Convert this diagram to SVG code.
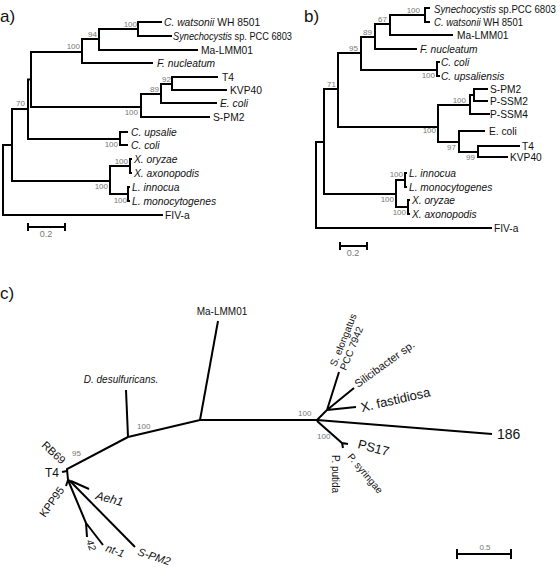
<svg xmlns="http://www.w3.org/2000/svg" width="560" height="567" viewBox="0 0 560 567">
<style>
text{font-family:"Liberation Sans",Arial,sans-serif;fill:#111}
.a{font-size:10.3px}
.b{font-size:10.2px}
.it{font-style:italic}
.bs{font-size:8px;fill:#777}
.pl{font-size:17px}
.br{stroke:#000;stroke-width:2;fill:none}
.sc{stroke:#000;stroke-width:2;fill:none}
</style>
<rect width="560" height="567" fill="#fff"/>
<text class="pl" x="0" y="22">a)</text>
<text class="pl" x="304" y="22">b)</text>
<text class="pl" x="0" y="299">c)</text>

<g id="connectors">
 <g id="tree-a">
  <path class="br" d="M12,145H3V215H163"/>
  <path class="br" d="M28,109H12V181H110"/>
  <path class="br" d="M31,79.5H28V139H120"/>
  <path class="br" d="M82,52H31V107H141"/>
  <path class="br" d="M99,39H82V63H153"/>
  <path class="br" d="M138,29H99V50H198"/>
  <path class="br" d="M162,22H138V36H172"/>
  <path class="br" d="M161,94H141V117H210"/>
  <path class="br" d="M172,84H161V103H217"/>
  <path class="br" d="M218,77H172V90H227"/>
  <path class="br" d="M128,132H120V145H128"/>
  <path class="br" d="M130,166H110V194H128"/>
  <path class="br" d="M132,159H130V173H132"/>
  <path class="br" d="M130,187H128V201H130"/>
  <path class="sc" d="M28,227H65M28,223V231M65,223V231"/>
 </g>
 <g id="tree-b">
  <path class="br" d="M324,142H316V228H492"/>
  <path class="br" d="M338,89H324V194H396"/>
  <path class="br" d="M361,53H338V127H438"/>
  <path class="br" d="M375,37H361V70H437"/>
  <path class="br" d="M390,24H375V49H417"/>
  <path class="br" d="M425,15H390V35H453"/>
  <path class="br" d="M430,8H425V22H430"/>
  <path class="br" d="M440,62H437V76H440"/>
  <path class="br" d="M470,105H438V142H459"/>
  <path class="br" d="M474,95H470V114H490"/>
  <path class="br" d="M488,89H474V101H488"/>
  <path class="br" d="M485,131H459V152H478"/>
  <path class="br" d="M520,146H478V157H508"/>
  <path class="br" d="M405,180H396V207H408"/>
  <path class="br" d="M407,173H405V187H407"/>
  <path class="br" d="M410,200H408V214H410"/>
  <path class="sc" d="M340,246H367M340,242V250M367,242V250"/>
 </g>
 <g id="tree-c">
  <path class="br" d="M128,437L200,420L317,420"/>
  <path class="br" d="M200,420L218,321"/>
  <path class="br" d="M128,437L126,390"/>
  <path class="br" d="M128,437L67,469L68,480"/>
  <path class="br" d="M67,471L62,472"/>
  <path class="br" d="M68,480L66,486"/>
  <path class="br" d="M68,480L86,523L87,537M86,523L103,545"/>
  <path class="br" d="M69,480L135,547"/>
  <path class="br" d="M71,481L89,489"/>
  <path class="br" d="M317,420L492,434"/>
  <path class="br" d="M317,421L342,443L348,444M342,443L343,448"/>
  <path class="br" d="M317,420L327,410L339,372M327,410L354,388M327,410L356,407"/>
  <path class="sc" d="M457,554H511M457,549V559M511,549V559"/>
 </g>
</g>

<g id="bootstrap-a">
 <text class="bs" x="16" y="106">70</text>
 <text class="bs" x="80" y="49" text-anchor="end">100</text>
 <text class="bs" x="97" y="37" text-anchor="end">94</text>
 <text class="bs" x="137" y="27" text-anchor="end">100</text>
 <text class="bs" x="138" y="115" text-anchor="end">100</text>
 <text class="bs" x="159" y="92" text-anchor="end">89</text>
 <text class="bs" x="171" y="82" text-anchor="end">92</text>
 <text class="bs" x="118" y="147" text-anchor="end">100</text>
 <text class="bs" x="108" y="189" text-anchor="end">100</text>
 <text class="bs" x="128" y="164" text-anchor="end">100</text>
 <text class="bs" x="127" y="203" text-anchor="end">100</text>
 <text class="bs" x="46" y="237" text-anchor="middle" style="font-size:9px">0.2</text>
</g>
<g id="bootstrap-b">
 <text class="bs" x="336" y="87" text-anchor="end">71</text>
 <text class="bs" x="358" y="51" text-anchor="end">95</text>
 <text class="bs" x="372" y="35" text-anchor="end">89</text>
 <text class="bs" x="387" y="22" text-anchor="end">67</text>
 <text class="bs" x="420" y="13" text-anchor="end">100</text>
 <text class="bs" x="435" y="78" text-anchor="end">100</text>
 <text class="bs" x="436" y="133" text-anchor="end">100</text>
 <text class="bs" x="466" y="103" text-anchor="end">100</text>
 <text class="bs" x="456" y="150" text-anchor="end">97</text>
 <text class="bs" x="475" y="160" text-anchor="end">99</text>
 <text class="bs" x="394" y="202" text-anchor="end">100</text>
 <text class="bs" x="403" y="177" text-anchor="end">100</text>
 <text class="bs" x="406" y="215" text-anchor="end">100</text>
 <text class="bs" x="353" y="256" text-anchor="middle" style="font-size:9px">0.2</text>
</g>
<g id="bootstrap-c">
 <text class="bs" x="137" y="429">100</text>
 <text class="bs" x="72" y="456">95</text>
 <text class="bs" x="298" y="416">100</text>
 <text class="bs" x="317" y="439">100</text>
 <text class="bs" x="485" y="550" text-anchor="middle">0.5</text>
</g>

<g id="a-cwatsonii"><text class="a" x="164" y="25.5"><tspan class="it">C. watsonii</tspan>  WH 8501</text></g>
<g id="a-synechocystis"><text class="a" x="173" y="40" textLength="119" lengthAdjust="spacingAndGlyphs"><tspan class="it">Synechocystis</tspan> sp. PCC 6803</text></g>
<g id="a-malmm01"><text class="a" x="201" y="54">Ma-LMM01</text></g>
<g id="a-fnucleatum"><text class="a it" x="157" y="67">F. nucleatum</text></g>
<g id="a-t4"><text class="a" x="222" y="81">T4</text></g>
<g id="a-kvp40"><text class="a" x="230" y="94">KVP40</text></g>
<g id="a-ecoli"><text class="a it" x="220" y="107">E. coli</text></g>
<g id="a-spm2"><text class="a" x="213" y="121">S-PM2</text></g>
<g id="a-cupsalie"><text class="a it" x="131" y="136">C. upsalie</text></g>
<g id="a-ccoli"><text class="a it" x="131" y="149">C. coli</text></g>
<g id="a-xoryzae"><text class="a it" x="134" y="163">X. oryzae</text></g>
<g id="a-xaxonopodis"><text class="a it" x="134" y="177">X. axonopodis</text></g>
<g id="a-linnocua"><text class="a it" x="132" y="191">L. innocua</text></g>
<g id="a-lmono"><text class="a it" x="132" y="205">L. monocytogenes</text></g>
<g id="a-fiva"><text class="a" x="165" y="219">FIV-a</text></g>

<g id="b-synechocystis"><text class="b" x="434" y="12.5" textLength="122" lengthAdjust="spacingAndGlyphs"><tspan class="it">Synechocystis</tspan> sp.PCC 6803</text></g>
<g id="b-cwatsonii"><text class="b" x="434" y="26" textLength="89" lengthAdjust="spacingAndGlyphs"><tspan class="it">C. watsonii</tspan>  WH 8501</text></g>
<g id="b-malmm01"><text class="b" x="457" y="39">Ma-LMM01</text></g>
<g id="b-fnucleatum"><text class="b it" x="420" y="52.5">F. nucleatum</text></g>
<g id="b-ccoli"><text class="b it" x="441" y="65.5">C. coli</text></g>
<g id="b-cupsaliensis"><text class="b it" x="441" y="79.5">C. upsaliensis</text></g>
<g id="b-spm2"><text class="b" x="490" y="92.5">S-PM2</text></g>
<g id="b-pssm2"><text class="b" x="490" y="105">P-SSM2</text></g>
<g id="b-pssm4"><text class="b" x="490" y="118">P-SSM4</text></g>
<g id="b-ecoli"><text class="b" x="489" y="135">E. coli</text></g>
<g id="b-t4"><text class="b" x="522" y="150">T4</text></g>
<g id="b-kvp40"><text class="b" x="510" y="161">KVP40</text></g>
<g id="b-linnocua"><text class="b it" x="409" y="177">L. innocua</text></g>
<g id="b-lmono"><text class="b it" x="409" y="191">L. monocytogenes</text></g>
<g id="b-xoryzae"><text class="b it" x="412" y="204">X. oryzae</text></g>
<g id="b-xaxonopodis"><text class="b it" x="412" y="218">X. axonopodis</text></g>
<g id="b-fiva"><text class="b" x="494" y="232">FIV-a</text></g>

<g id="c-malmm01"><text x="222" y="315" text-anchor="middle" style="font-size:10px">Ma-LMM01</text></g>
<g id="c-ddesulfuricans"><text class="it" x="121" y="383" text-anchor="middle" style="font-size:10px">D. desulfuricans.</text></g>
<g id="c-rb69"><text x="41" y="446" transform="rotate(43 41 446)" style="font-size:11px">RB69</text></g>
<g id="c-t4"><text x="45" y="477" style="font-size:12px">T4</text></g>
<g id="c-kpp95"><text x="45" y="518" transform="rotate(-55 45 518)" style="font-size:11px">KPP95</text></g>
<g id="c-aeh1"><text class="it" x="95" y="499" transform="rotate(15 95 499)" style="font-size:12px">Aeh1</text></g>
<g id="c-42"><text class="it" x="86" y="541" transform="rotate(70 86 541)" style="font-size:10px">42</text></g>
<g id="c-nt1"><text class="it" x="105" y="551" transform="rotate(20 105 551)" style="font-size:11px">nt-1</text></g>
<g id="c-spm2"><text class="it" x="137" y="555" transform="rotate(18 137 555)" style="font-size:11px">S-PM2</text></g>
<g id="c-186"><text x="497" y="439" style="font-size:14px">186</text></g>
<g id="c-ps17"><text x="357" y="448" transform="rotate(15 357 448)" style="font-size:13px">PS17</text></g>
<g id="c-psyringae"><text x="347" y="457" transform="rotate(50 347 457)" style="font-size:10px">P. syringae</text></g>
<g id="c-pputida"><text x="332" y="455" transform="rotate(90 332 455)" style="font-size:10px">P. putida</text></g>
<g id="c-selongatus"><text x="336" y="367" transform="rotate(-68 336 367)" style="font-size:10px">S. elongatus</text><text x="346" y="371" transform="rotate(-68 346 371)" style="font-size:10px">PCC 7942</text></g>
<g id="c-silicibacter"><text x="358" y="388" transform="rotate(-36 358 388)" style="font-size:11px">Silicibacter sp.</text></g>
<g id="c-xfastidiosa"><text x="362" y="412" transform="rotate(-13 362 412)" style="font-size:13px">X. fastidiosa</text></g>
</svg>
